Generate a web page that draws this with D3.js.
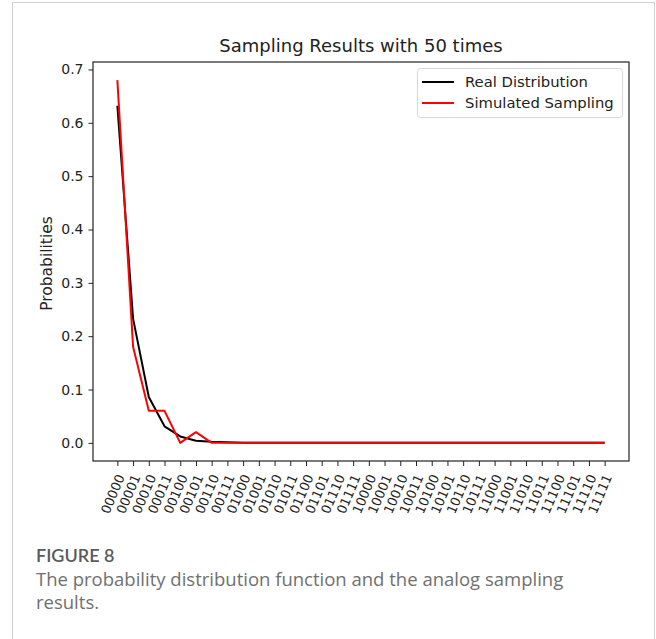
<!DOCTYPE html>
<html>
<head>
<meta charset="utf-8">
<script src="https://cdn.jsdelivr.net/npm/d3@7"></script>
<style>
  body { margin: 0; background: #fff; }
  svg { display: block; }
</style>
</head>
<body>
<script>
// states of the 5 qubits, one per x tick
const states = [
  '00000','00001','00010','00011','00100','00101','00110','00111',
  '01000','01001','01010','01011','01100','01101','01110','01111',
  '10000','10001','10010','10011','10100','10101','10110','10111',
  '11000','11001','11010','11011','11100','11101','11110','11111'
];
const realDist = [
  0.632, 0.233, 0.086, 0.031, 0.012, 0.004, 0.002, 0.001,
  0, 0, 0, 0, 0, 0, 0, 0,
  0, 0, 0, 0, 0, 0, 0, 0,
  0, 0, 0, 0, 0, 0, 0, 0
];
const simSampling = [
  0.68, 0.18, 0.06, 0.06, 0, 0.02, 0, 0,
  0, 0, 0, 0, 0, 0, 0, 0,
  0, 0, 0, 0, 0, 0, 0, 0,
  0, 0, 0, 0, 0, 0, 0, 0
];
const yTicks = [0, 0.1, 0.2, 0.3, 0.4, 0.5, 0.6, 0.7];
const seriesNames = ['Real Distribution', 'Simulated Sampling'];
const seriesColors = ['#000000', '#ff0000'];

const W = 656, H = 639;
const box = {left: 93, right: 629, top: 62, bottom: 461};
const font = 'DejaVu Sans, sans-serif';

const svg = d3.select(document.body).append('svg')
  .attr('width', W).attr('height', H);

// outer panel
svg.append('rect')
  .attr('x', 12.5).attr('y', 2.5)
  .attr('width', 642).attr('height', 660)
  .attr('fill', 'none').attr('stroke', '#d0d0d0');

const x = d3.scaleLinear()
  .domain([-1.55, 32.55])
  .range([box.left, box.right]);
const y = d3.scaleLinear()
  .domain([-0.034, 0.714])
  .range([box.bottom, box.top]);

// y axis
const yAxis = d3.axisLeft(y).tickValues(yTicks).tickFormat(d3.format('.1f')).tickSize(4.5).tickPadding(5);
const gy = svg.append('g')
  .attr('transform', `translate(${box.left},0)`)
  .call(yAxis);
gy.select('.domain').remove();
gy.selectAll('text').attr('font-family', font).attr('font-size', 14).attr('fill', '#222');
gy.selectAll('line').attr('stroke', '#222');

// x axis
const xAxis = d3.axisBottom(x).tickValues(d3.range(states.length)).tickFormat(i => states[i]).tickSize(5);
const gx = svg.append('g')
  .attr('transform', `translate(0,${box.bottom})`)
  .call(xAxis);
gx.select('.domain').remove();
gx.selectAll('line').attr('stroke', '#222');
gx.selectAll('text')
  .attr('font-family', font).attr('font-size', 13).attr('fill', '#222')
  .attr('text-anchor', 'end')
  .attr('dy', '0.35em')
  .attr('y', 0)
  .attr('transform', 'translate(3,14) rotate(-67)');

// series
const line = d3.line().x((d, i) => x(i)).y(d => y(d));
[realDist, simSampling].forEach((s, k) => {
  svg.append('path')
    .datum(s)
    .attr('d', line)
    .attr('fill', 'none')
    .attr('stroke', seriesColors[k])
    .attr('stroke-width', 2)
    .attr('stroke-linejoin', 'round');
});

// frame
svg.append('rect')
  .attr('x', box.left).attr('y', box.top)
  .attr('width', box.right - box.left).attr('height', box.bottom - box.top)
  .attr('fill', 'none').attr('stroke', '#222').attr('stroke-width', 1.2);

// title
svg.append('text')
  .attr('x', (box.left + box.right) / 2).attr('y', 52)
  .attr('text-anchor', 'middle')
  .attr('font-family', font).attr('font-size', 18).attr('fill', '#222')
  .text('Sampling Results with 50 times');

// y label
svg.append('text')
  .attr('transform', `translate(52,${(box.top + box.bottom) / 2 + 2}) rotate(-90)`)
  .attr('text-anchor', 'middle')
  .attr('font-family', font).attr('font-size', 15.5).attr('fill', '#222')
  .text('Probabilities');

// legend
const lg = svg.append('g').attr('transform', 'translate(417,68)');
lg.append('rect')
  .attr('x', 0.5).attr('y', 0.5).attr('width', 205).attr('height', 49)
  .attr('rx', 3).attr('fill', '#fff').attr('fill-opacity', 0.8)
  .attr('stroke', '#d8d8d8');
seriesNames.forEach((n, k) => {
  const yy = 14 + k * 21;
  lg.append('line')
    .attr('x1', 5).attr('x2', 37).attr('y1', yy).attr('y2', yy)
    .attr('stroke', seriesColors[k]).attr('stroke-width', 2);
  lg.append('text')
    .attr('x', 48).attr('y', yy).attr('dy', '0.35em')
    .attr('font-family', font).attr('font-size', 14.8).attr('fill', '#222')
    .text(n);
});

// caption
const cap = svg.append('g').attr('font-family', 'Open Sans, sans-serif');
cap.append('text')
  .attr('x', 36).attr('y', 562)
  .attr('font-family', 'Lato, sans-serif')
  .attr('font-size', 18).attr('font-weight', 600).attr('fill', '#5a5a5a')
  .text('FIGURE 8');
cap.append('text')
  .attr('x', 36).attr('y', 586)
  .attr('font-size', 18.5).attr('fill', '#707070')
  .text('The probability distribution function and the analog sampling');
cap.append('text')
  .attr('x', 36).attr('y', 609)
  .attr('font-size', 18.5).attr('fill', '#707070')
  .text('results.');
</script>
</body>
</html>
